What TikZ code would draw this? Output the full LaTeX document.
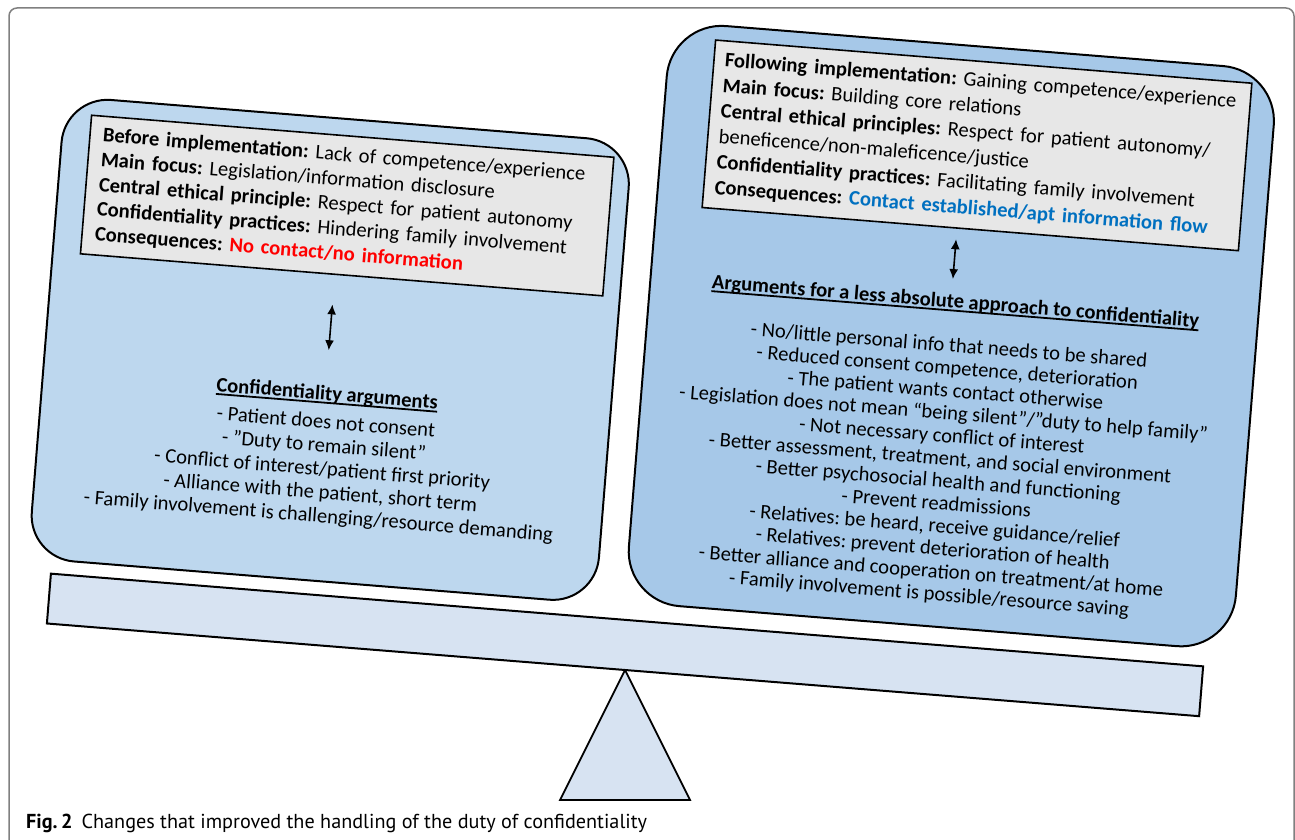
\documentclass[tikz,border=0pt]{standalone}
\usepackage{fontspec}
\setmainfont{Carlito}
\newfontfamily\capfont{PT Sans}
\usetikzlibrary{arrows.meta}
\usetikzlibrary{positioning}
\definecolor{lblue}{RGB}{189,215,238}
\definecolor{rblue}{RGB}{166,200,232}
\definecolor{beamblue}{RGB}{215,227,242}
\definecolor{boxgray}{RGB}{231,231,231}
\definecolor{mred}{RGB}{255,0,0}
\definecolor{mblue}{RGB}{0,112,192}
\definecolor{framegray}{RGB}{128,128,128}
\newcommand{\headrule}[1]{\sbox0{#1}\rlap{\rule[-3.5pt]{\wd0}{1.8pt}}\usebox0}
\frenchspacing

\begin{document}
\begin{tikzpicture}[x=1pt, y=1pt,
    panel/.style={draw, line width=2},
    infobox/.style={draw, line width=1.6, fill=boxgray, align=left, anchor=north west,
      inner xsep=13, inner ysep=0, font=\fontsize{20.6}{24.8}\selectfont},
    headtext/.style={font=\fontsize{20.6}{24}\selectfont\bfseries},
    listtext/.style={align=center, font=\fontsize{20.6}{23.5}\selectfont},
    link/.style={{Latex[length=10pt,width=9pt]}-{Latex[length=10pt,width=9pt]}, line width=1.6}]
    \useasboundingbox (0,0) rectangle (1295,839);
    \draw [framegray, line width=1.5, rounded corners=8] (9,-10) -- (9,831) -- (1294,831) -- (1294,-10);

    % fulcrum
    \draw [fill=beamblue, line width=1.8] (625,169) -- (560,39) -- (690,39) -- cycle;

    \begin{scope}[shift={(625,169)}, rotate=-4.6, transform shape]
      \draw [fill=beamblue, line width=2] (-580,0) rectangle (576,50);
      \draw [panel, fill=lblue, rounded corners=46] (-604,64) rectangle (-35,527);
      \draw [panel, fill=rblue, rounded corners=55] (-6,68) rectangle (603,650);

      \node [infobox, minimum width=524, minimum height=139, text width=498] (lgray) at (-577,511) {
        \textbf{Before implementation:} Lack of competence/experience\\
        \textbf{Main focus:} Legislation/information disclosure\\
        \textbf{Central ethical principle:} Respect for patient autonomy\\
        \textbf{Confidentiality practices:} Hindering family involvement\\
        \textbf{Consequences:} \textcolor{mred}{\textbf{No contact/no information}}};
      \node [infobox, minimum width=538, minimum height=168, text width=516, inner xsep=11,
        font=\fontsize{20.6}{25.6}\selectfont] (rgray) at (39,636) {
        \mbox{\textbf{Following implementation:} Gaining competence/experience}\\
        \textbf{Main focus:} Building core relations\\
        \mbox{\textbf{Central ethical principles:} Respect for patient autonomy/}\\
        beneficence/non-maleficence/justice\\
        \mbox{\textbf{Confidentiality practices:} Facilitating family involvement}\\
        \mbox{\textbf{Consequences:} \textcolor{mblue}{\textbf{Contact established/apt information flow}}}};

      \node [headtext] (lhead) at (-319,250.5) {\headrule{Confidentiality arguments}};
      \node [listtext] (llist) at (-318,175) {
        - Patient does not consent\\
        - ”Duty to remain silent”\\
        - Conflict of interest/patient first priority\\
        - Alliance with the patient, short term\\
        - Family involvement is challenging/resource demanding};

      \node [headtext] (rhead) at (300,392.7) {\headrule{Arguments for a less absolute approach to confidentiality}};
      \node [listtext, font=\fontsize{20.6}{22.65}\selectfont] (rlist) at (297,224) {
        - No/little personal info that needs to be shared\\
        - Reduced consent competence, deterioration\\
        - The patient wants contact otherwise\\
        - Legislation does not mean “being silent”/”duty to help family”\\
        - Not necessary conflict of interest\\
        - Better assessment, treatment, and social environment\\
        - Better psychosocial health and functioning\\
        - Prevent readmissions\\
        - Relatives: be heard, receive guidance/relief\\
        - Relatives: prevent deterioration of health\\
        - Better alliance and cooperation on treatment/at home\\
        - Family involvement is possible/resource saving};

      \coordinate (la) at (-321,341);
      \coordinate (lb) at (-321,295);
      \coordinate (ra) at (295.5,456);
      \coordinate (rb) at (295.5,416);
      \draw [link] (la) -- (lb);
      \draw [link] (ra) -- (rb);
    \end{scope}

    \node [anchor=base west, inner sep=0, font=\capfont\fontsize{20.2}{20}\selectfont] (caption) at (26,11)
      {\textbf{Fig.\,2}\hspace{0.45em}Changes that improved the handling of the duty of confidentiality};
  \end{tikzpicture}
\end{document}
